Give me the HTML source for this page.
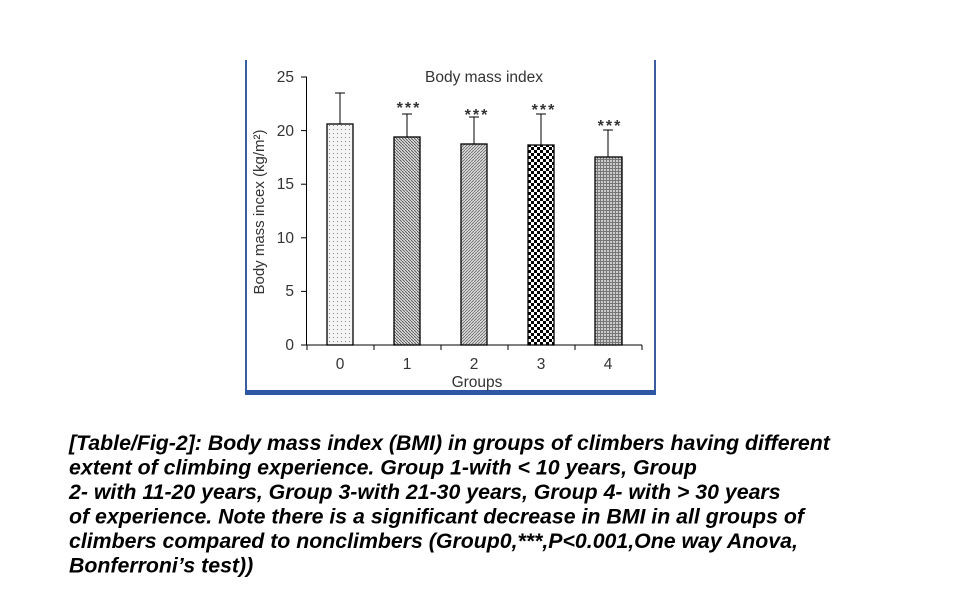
<!DOCTYPE html>
<html><head><meta charset="utf-8"><style>
html,body{margin:0;padding:0;background:#fff;width:957px;height:608px;overflow:hidden}
</style></head><body>
<svg width="957" height="608" style="position:absolute;left:0;top:0" font-family="Liberation Sans, sans-serif">
<defs>
<pattern id="p0" width="4" height="4" patternUnits="userSpaceOnUse"><rect width="4" height="4" fill="#f4f4f4"/><rect x="1" y="1" width="1" height="1" fill="#888"/></pattern>
<pattern id="p1" width="3" height="3" patternUnits="userSpaceOnUse"><rect width="3" height="3" fill="#ddd"/><path d="M0,0 L3,3" stroke="#555" stroke-width="0.9"/></pattern>
<pattern id="p2" width="3" height="3" patternUnits="userSpaceOnUse"><rect width="3" height="3" fill="#ddd"/><path d="M3,0 L0,3" stroke="#666" stroke-width="0.8"/></pattern>
<pattern id="p3" width="6" height="6" patternUnits="userSpaceOnUse"><rect width="6" height="6" fill="#fff"/><rect width="3" height="3" fill="#000"/><rect x="3" y="3" width="3" height="3" fill="#000"/></pattern>
<pattern id="p4" width="3" height="3" patternUnits="userSpaceOnUse"><rect width="3" height="3" fill="#ccc"/><rect width="3" height="1" fill="#777"/><rect width="1" height="3" fill="#777"/></pattern>
</defs>
<line x1="246" y1="60" x2="246" y2="393" stroke="#3a5da0" stroke-width="2"/>
<line x1="655" y1="60" x2="655" y2="393" stroke="#3a5da0" stroke-width="2"/>
<rect x="245" y="390" width="411" height="5" fill="#2d57a4"/>
<g stroke="#000" stroke-width="1">
<line x1="306.5" y1="77" x2="306.5" y2="345"/>
<line x1="301" y1="345" x2="642" y2="345"/>
<line x1="301" y1="77" x2="307" y2="77"/><line x1="301" y1="130.6" x2="307" y2="130.6"/><line x1="301" y1="184.2" x2="307" y2="184.2"/><line x1="301" y1="237.8" x2="307" y2="237.8"/><line x1="301" y1="291.4" x2="307" y2="291.4"/>
<line x1="307" y1="345" x2="307" y2="350"/><line x1="374" y1="345" x2="374" y2="350"/><line x1="441" y1="345" x2="441" y2="350"/><line x1="508" y1="345" x2="508" y2="350"/><line x1="575" y1="345" x2="575" y2="350"/><line x1="642" y1="345" x2="642" y2="350"/>
<line x1="340" y1="93" x2="340" y2="124"/><line x1="335" y1="93" x2="345" y2="93"/>
<line x1="407" y1="114" x2="407" y2="137"/><line x1="402" y1="114" x2="412" y2="114"/>
<line x1="474" y1="117" x2="474" y2="144"/><line x1="469" y1="117" x2="479" y2="117"/>
<line x1="541" y1="114" x2="541" y2="145"/><line x1="536" y1="114" x2="546" y2="114"/>
<line x1="608" y1="130" x2="608" y2="157"/><line x1="603" y1="130" x2="613" y2="130"/>
</g>
<g stroke="#000" stroke-width="1.3">
<rect x="327" y="124" width="26" height="221" fill="url(#p0)"/>
<rect x="394" y="137" width="26" height="208" fill="url(#p1)"/>
<rect x="461" y="144" width="26" height="201" fill="url(#p2)"/>
<rect x="528" y="145" width="26" height="200" fill="url(#p3)"/>
<rect x="595" y="157" width="27" height="188" fill="url(#p4)"/>
</g>
<g font-size="15.5" fill="#333" text-anchor="end">
<text x="294" y="82">25</text><text x="294" y="136">20</text><text x="294" y="189">15</text><text x="294" y="243">10</text><text x="294" y="296">5</text><text x="294" y="350">0</text>
</g>
<g font-size="15.5" fill="#333" text-anchor="middle">
<text x="340" y="369">0</text><text x="407" y="369">1</text><text x="474" y="369">2</text><text x="541" y="369">3</text><text x="608" y="369">4</text>
<text x="477" y="387">Groups</text>
<text x="484" y="82">Body mass index</text>
</g>
<g font-size="16" font-weight="bold" fill="#333" text-anchor="middle" letter-spacing="2">
<text x="409" y="113">***</text><text x="477" y="120">***</text><text x="544" y="115">***</text><text x="610" y="131">***</text>
</g>
<text transform="translate(264,212) rotate(-90)" font-size="15" fill="#333" text-anchor="middle">Body mass incex (kg/m²)</text>
<g font-size="21.3" font-style="italic" font-weight="bold" fill="#000">
<text x="69" y="450">[Table/Fig-2]: Body mass index (BMI) in groups of climbers having different</text>
<text x="69" y="474.5">extent of climbing experience. Group 1-with &lt; 10 years, Group</text>
<text x="69" y="499">2- with 11-20 years, Group 3-with 21-30 years, Group 4- with &gt; 30 years</text>
<text x="69" y="523.5">of experience. Note there is a significant decrease in BMI in all groups of</text>
<text x="69" y="548">climbers compared to nonclimbers (Group0,***,P&lt;0.001,One way Anova,</text>
<text x="69" y="572.5">Bonferroni’s test))</text>
</g>
</svg>
</body></html>
